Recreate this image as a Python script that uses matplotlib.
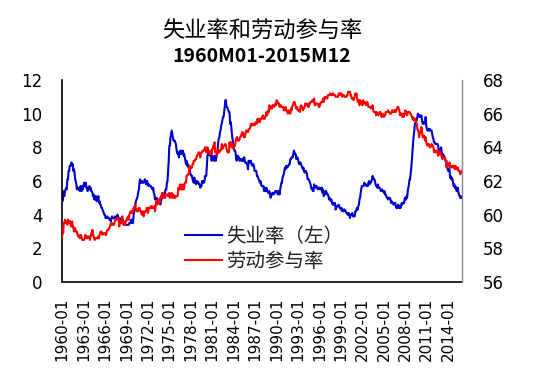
import matplotlib
matplotlib.use("Agg")
import matplotlib.pyplot as plt
import numpy as np

plt.rcParams['font.family'] = ['DejaVu Sans']

title_line1 = "失业率和劳动参与率"
title_line2 = "1960M01-2015M12"
series_names = ["失业率（左）", "劳动参与率"]

start_year = 1960
end_year = 2015

# Unemployment rate (%), monthly, 1960M01-2015M12 (left axis)
unemployment_rate = [
    5.2, 4.8, 5.4, 5.2, 5.1, 5.4, 5.5, 5.6, 5.5, 6.1, 6.1, 6.6,
    6.6, 6.9, 6.9, 7.0, 7.1, 6.9, 7.0, 6.6, 6.7, 6.5, 6.1, 6.0,
    5.8, 5.5, 5.6, 5.6, 5.5, 5.5, 5.4, 5.7, 5.6, 5.4, 5.7, 5.5,
    5.7, 5.9, 5.7, 5.7, 5.9, 5.6, 5.6, 5.4, 5.5, 5.5, 5.7, 5.5,
    5.6, 5.4, 5.4, 5.3, 5.1, 5.2, 4.9, 5.0, 5.1, 5.1, 4.8, 5.0,
    4.9, 5.1, 4.7, 4.8, 4.6, 4.6, 4.4, 4.4, 4.3, 4.2, 4.1, 4.0,
    4.0, 3.8, 3.8, 3.8, 3.9, 3.8, 3.8, 3.8, 3.7, 3.7, 3.6, 3.8,
    3.9, 3.8, 3.8, 3.8, 3.8, 3.9, 3.8, 3.8, 3.8, 4.0, 3.9, 3.8,
    3.7, 3.8, 3.7, 3.5, 3.5, 3.7, 3.7, 3.5, 3.4, 3.4, 3.4, 3.4,
    3.4, 3.4, 3.4, 3.4, 3.4, 3.5, 3.5, 3.5, 3.7, 3.7, 3.5, 3.5,
    3.9, 4.2, 4.4, 4.6, 4.8, 4.9, 5.0, 5.1, 5.4, 5.5, 5.9, 6.1,
    5.9, 5.9, 6.0, 5.9, 5.9, 5.9, 6.0, 6.1, 6.0, 5.8, 6.0, 6.0,
    5.8, 5.7, 5.8, 5.7, 5.7, 5.7, 5.6, 5.6, 5.5, 5.6, 5.3, 5.2,
    4.9, 5.0, 4.9, 5.0, 4.9, 4.9, 4.8, 4.8, 4.8, 4.6, 4.8, 4.9,
    5.1, 5.2, 5.1, 5.1, 5.1, 5.4, 5.5, 5.5, 5.9, 6.0, 6.6, 7.2,
    8.1, 8.1, 8.6, 8.8, 9.0, 8.8, 8.6, 8.4, 8.4, 8.4, 8.3, 8.2,
    7.9, 7.7, 7.6, 7.7, 7.4, 7.6, 7.8, 7.8, 7.6, 7.7, 7.8, 7.8,
    7.5, 7.6, 7.4, 7.2, 7.0, 7.2, 6.9, 7.0, 6.8, 6.8, 6.8, 6.4,
    6.4, 6.3, 6.3, 6.1, 6.0, 5.9, 6.2, 5.9, 6.0, 5.8, 5.9, 6.0,
    5.9, 5.9, 5.8, 5.8, 5.6, 5.7, 5.7, 6.0, 5.9, 6.0, 5.9, 6.0,
    6.3, 6.3, 6.3, 6.9, 7.5, 7.6, 7.8, 7.7, 7.5, 7.5, 7.5, 7.2,
    7.5, 7.4, 7.4, 7.2, 7.5, 7.5, 7.2, 7.4, 7.6, 7.9, 8.3, 8.5,
    8.6, 8.9, 9.0, 9.3, 9.4, 9.6, 9.8, 9.8, 10.1, 10.4, 10.8, 10.8,
    10.4, 10.4, 10.3, 10.2, 10.1, 10.1, 9.4, 9.5, 9.2, 8.8, 8.5, 8.3,
    8.0, 7.8, 7.8, 7.7, 7.4, 7.2, 7.5, 7.5, 7.3, 7.4, 7.2, 7.3,
    7.3, 7.2, 7.2, 7.3, 7.2, 7.4, 7.4, 7.1, 7.1, 7.1, 7.0, 7.0,
    6.7, 7.2, 7.2, 7.1, 7.2, 7.2, 7.0, 6.9, 7.0, 7.0, 6.9, 6.6,
    6.6, 6.6, 6.6, 6.3, 6.3, 6.2, 6.1, 6.0, 5.9, 6.0, 5.8, 5.7,
    5.7, 5.7, 5.7, 5.4, 5.6, 5.4, 5.4, 5.6, 5.4, 5.4, 5.3, 5.3,
    5.4, 5.2, 5.0, 5.2, 5.2, 5.3, 5.2, 5.2, 5.3, 5.3, 5.4, 5.4,
    5.4, 5.3, 5.2, 5.4, 5.4, 5.2, 5.5, 5.7, 5.9, 5.9, 6.2, 6.3,
    6.4, 6.6, 6.8, 6.7, 6.9, 6.9, 6.8, 6.9, 6.9, 7.0, 7.0, 7.3,
    7.3, 7.4, 7.4, 7.4, 7.6, 7.8, 7.7, 7.6, 7.6, 7.3, 7.4, 7.4,
    7.3, 7.1, 7.0, 7.1, 7.1, 7.0, 6.9, 6.8, 6.7, 6.8, 6.6, 6.5,
    6.6, 6.6, 6.5, 6.4, 6.1, 6.1, 6.1, 6.0, 5.9, 5.8, 5.6, 5.5,
    5.6, 5.4, 5.4, 5.8, 5.6, 5.6, 5.7, 5.7, 5.6, 5.5, 5.6, 5.6,
    5.6, 5.5, 5.5, 5.6, 5.6, 5.3, 5.5, 5.1, 5.2, 5.2, 5.4, 5.4,
    5.3, 5.2, 5.2, 5.1, 4.9, 5.0, 4.9, 4.8, 4.9, 4.7, 4.6, 4.7,
    4.6, 4.6, 4.7, 4.3, 4.4, 4.5, 4.5, 4.5, 4.6, 4.5, 4.4, 4.4,
    4.3, 4.4, 4.2, 4.3, 4.2, 4.3, 4.3, 4.2, 4.2, 4.1, 4.1, 4.0,
    4.0, 4.1, 4.0, 3.8, 4.0, 4.0, 4.0, 4.1, 3.9, 3.9, 3.9, 3.9,
    4.2, 4.2, 4.3, 4.4, 4.3, 4.5, 4.6, 4.9, 5.0, 5.3, 5.5, 5.7,
    5.7, 5.7, 5.7, 5.9, 5.8, 5.8, 5.8, 5.7, 5.7, 5.7, 5.9, 6.0,
    5.8, 5.9, 5.9, 6.0, 6.1, 6.3, 6.2, 6.1, 6.1, 6.0, 5.8, 5.7,
    5.7, 5.6, 5.8, 5.6, 5.6, 5.6, 5.5, 5.4, 5.4, 5.5, 5.4, 5.4,
    5.3, 5.4, 5.2, 5.2, 5.1, 5.0, 5.0, 4.9, 5.0, 5.0, 5.0, 4.9,
    4.7, 4.8, 4.7, 4.7, 4.6, 4.6, 4.7, 4.7, 4.5, 4.4, 4.5, 4.4,
    4.6, 4.5, 4.4, 4.5, 4.4, 4.6, 4.7, 4.6, 4.7, 4.7, 4.7, 5.0,
    5.0, 4.9, 5.1, 5.0, 5.4, 5.6, 5.8, 6.1, 6.1, 6.5, 6.8, 7.3,
    7.8, 8.3, 8.7, 9.0, 9.4, 9.5, 9.5, 9.6, 9.8, 10.0, 9.9, 9.9,
    9.8, 9.8, 9.9, 9.9, 9.6, 9.4, 9.4, 9.5, 9.5, 9.4, 9.8, 9.3,
    9.1, 9.0, 9.0, 9.1, 9.0, 9.1, 9.0, 9.0, 9.0, 8.8, 8.6, 8.5,
    8.3, 8.3, 8.2, 8.2, 8.2, 8.2, 8.2, 8.1, 7.8, 7.8, 7.7, 7.9,
    8.0, 7.7, 7.5, 7.6, 7.5, 7.5, 7.3, 7.2, 7.2, 7.2, 6.9, 6.7,
    6.6, 6.7, 6.7, 6.2, 6.3, 6.1, 6.2, 6.1, 5.9, 5.7, 5.8, 5.6,
    5.7, 5.5, 5.4, 5.4, 5.6, 5.3, 5.2, 5.1, 5.0, 5.0, 5.1, 5.0,
]

# Labor force participation rate (%), monthly, 1960M01-2015M12 (right axis)
participation_rate = [
    58.6, 59.1, 58.9, 59.5, 59.5, 59.7, 59.5, 59.5, 59.6, 59.4, 59.7, 59.6,
    59.5, 59.6, 59.6, 59.3, 59.3, 59.6, 59.3, 59.3, 59.0, 59.2, 59.2, 59.0,
    59.0, 59.0, 58.8, 58.7, 58.8, 58.7, 58.6, 58.7, 58.8, 58.6, 58.5, 58.5,
    58.5, 58.5, 58.6, 58.8, 58.7, 58.6, 58.7, 58.6, 58.7, 58.7, 58.7, 58.5,
    58.7, 58.9, 58.8, 59.1, 58.9, 58.7, 58.6, 58.5, 58.6, 58.6, 58.6, 58.6,
    58.7, 58.6, 58.6, 58.8, 58.9, 59.0, 59.0, 58.9, 58.8, 58.9, 58.9, 58.9,
    58.9, 58.8, 58.8, 59.0, 59.1, 59.1, 59.1, 59.2, 59.2, 59.4, 59.5, 59.4,
    59.5, 59.4, 59.4, 59.4, 59.5, 59.7, 59.7, 59.7, 59.7, 59.8, 59.8, 59.8,
    59.3, 59.6, 59.6, 59.5, 59.6, 59.9, 59.6, 59.4, 59.5, 59.4, 59.6, 59.6,
    59.6, 59.8, 59.8, 59.9, 59.7, 60.0, 60.1, 60.2, 60.1, 60.2, 60.1, 60.2,
    60.4, 60.4, 60.5, 60.6, 60.3, 60.2, 60.3, 60.3, 60.2, 60.4, 60.4, 60.3,
    60.2, 60.1, 60.0, 60.2, 60.2, 59.9, 60.1, 60.2, 60.2, 60.2, 60.4, 60.4,
    60.1, 60.2, 60.4, 60.4, 60.4, 60.5, 60.4, 60.5, 60.4, 60.4, 60.4, 60.5,
    60.2, 60.5, 60.8, 60.7, 60.6, 60.9, 60.9, 60.7, 60.7, 61.0, 61.1, 61.0,
    61.3, 61.3, 61.2, 61.0, 61.0, 61.0, 61.2, 61.2, 61.2, 61.2, 61.1, 61.1,
    61.3, 61.0, 61.1, 61.2, 61.3, 61.0, 61.2, 61.2, 61.0, 61.1, 61.0, 61.1,
    61.1, 61.1, 61.1, 61.6, 61.5, 61.5, 61.8, 61.7, 61.5, 61.5, 61.8, 61.7,
    61.5, 61.6, 61.9, 61.9, 61.9, 62.3, 62.3, 62.4, 62.4, 62.4, 62.9, 62.7,
    62.8, 62.8, 62.8, 63.0, 63.0, 63.2, 63.2, 63.2, 63.3, 63.3, 63.5, 63.5,
    63.6, 63.7, 63.7, 63.6, 63.4, 63.6, 63.7, 63.7, 63.8, 63.8, 63.8, 63.9,
    64.0, 64.0, 63.7, 63.8, 64.0, 63.7, 63.8, 63.7, 63.6, 63.7, 63.8, 63.6,
    63.9, 63.9, 64.1, 64.2, 64.3, 63.7, 63.8, 63.8, 63.5, 63.8, 63.9, 63.7,
    63.7, 63.8, 63.8, 63.9, 64.2, 63.9, 64.0, 64.1, 64.1, 64.1, 64.2, 64.1,
    63.9, 63.8, 63.7, 63.8, 63.7, 64.3, 64.1, 64.3, 64.3, 64.0, 64.1, 64.1,
    63.9, 64.1, 64.1, 64.3, 64.5, 64.6, 64.6, 64.4, 64.4, 64.4, 64.5, 64.6,
    64.7, 64.7, 64.9, 64.9, 64.8, 64.6, 64.7, 64.6, 64.9, 65.0, 64.9, 65.0,
    64.9, 65.0, 65.1, 65.1, 65.2, 65.4, 65.4, 65.3, 65.4, 65.4, 65.4, 65.3,
    65.4, 65.5, 65.5, 65.4, 65.7, 65.5, 65.6, 65.7, 65.5, 65.7, 65.7, 65.7,
    65.8, 65.9, 65.7, 65.8, 65.7, 65.8, 65.9, 66.1, 65.9, 66.0, 66.2, 66.1,
    66.5, 66.3, 66.3, 66.4, 66.3, 66.5, 66.5, 66.5, 66.4, 66.5, 66.6, 66.5,
    66.8, 66.7, 66.7, 66.6, 66.6, 66.4, 66.5, 66.5, 66.4, 66.4, 66.4, 66.4,
    66.2, 66.2, 66.3, 66.4, 66.2, 66.2, 66.1, 66.0, 66.2, 66.1, 66.1, 66.0,
    66.3, 66.2, 66.4, 66.5, 66.6, 66.7, 66.7, 66.6, 66.4, 66.3, 66.4, 66.3,
    66.2, 66.2, 66.2, 66.1, 66.4, 66.5, 66.4, 66.4, 66.2, 66.3, 66.3, 66.4,
    66.6, 66.6, 66.5, 66.5, 66.6, 66.4, 66.4, 66.6, 66.6, 66.7, 66.7, 66.7,
    66.8, 66.8, 66.7, 66.9, 66.5, 66.5, 66.6, 66.6, 66.6, 66.6, 66.5, 66.4,
    66.4, 66.6, 66.6, 66.7, 66.7, 66.7, 66.9, 66.7, 66.9, 67.0, 66.9, 67.0,
    67.0, 66.9, 67.1, 67.1, 67.1, 67.1, 67.2, 67.1, 67.1, 67.1, 67.2, 67.2,
    67.1, 67.1, 67.1, 67.0, 67.0, 67.0, 67.0, 67.0, 67.2, 67.2, 67.1, 67.2,
    67.2, 67.2, 67.0, 67.1, 67.1, 67.1, 67.0, 67.0, 67.0, 67.0, 67.1, 67.1,
    67.3, 67.3, 67.3, 67.3, 67.1, 67.1, 66.9, 66.9, 66.9, 66.8, 66.9, 67.0,
    67.2, 67.1, 67.2, 66.9, 66.7, 66.7, 66.8, 66.5, 66.8, 66.7, 66.7, 66.7,
    66.5, 66.8, 66.6, 66.7, 66.7, 66.6, 66.5, 66.6, 66.7, 66.6, 66.4, 66.4,
    66.4, 66.4, 66.3, 66.4, 66.4, 66.5, 66.2, 66.1, 66.1, 66.1, 66.1, 65.9,
    66.1, 66.0, 66.0, 65.9, 66.0, 66.1, 66.1, 66.0, 65.8, 65.9, 66.0, 65.9,
    65.8, 65.9, 65.9, 66.1, 66.1, 66.1, 66.1, 66.2, 66.1, 66.1, 66.0, 66.0,
    66.0, 66.1, 66.2, 66.1, 66.1, 66.2, 66.1, 66.2, 66.1, 66.2, 66.3, 66.4,
    66.4, 66.3, 66.2, 65.9, 66.0, 66.0, 66.0, 65.8, 66.0, 65.8, 66.0, 66.0,
    66.2, 66.0, 66.1, 65.9, 66.1, 66.1, 66.1, 66.1, 66.0, 66.0, 65.9, 65.8,
    65.7, 65.8, 65.6, 65.7, 65.7, 65.7, 65.5, 65.4, 65.1, 65.0, 65.0, 64.6,
    64.8, 64.9, 64.9, 65.2, 64.9, 64.6, 64.6, 64.7, 64.6, 64.4, 64.6, 64.3,
    64.2, 64.1, 64.2, 64.2, 64.1, 64.0, 64.0, 64.1, 64.2, 64.1, 64.1, 64.0,
    63.7, 63.8, 63.8, 63.7, 63.8, 63.8, 63.7, 63.5, 63.6, 63.8, 63.6, 63.7,
    63.6, 63.4, 63.3, 63.4, 63.4, 63.4, 63.4, 63.3, 63.2, 62.8, 63.0, 62.9,
    62.9, 62.9, 63.1, 62.8, 62.9, 62.8, 62.9, 62.9, 62.8, 62.9, 62.9, 62.7,
    62.9, 62.7, 62.7, 62.7, 62.8, 62.6, 62.6, 62.6, 62.4, 62.5, 62.5, 62.6,
]

left_ticks = [0, 2, 4, 6, 8, 10, 12]
right_ticks = [56, 58, 60, 62, 64, 66, 68]
tick_years = list(range(1960, 2015, 3))
tick_labels = [f"{y}-01" for y in tick_years]

blue = "#0000CC"
red = "#FF0000"
cjk = ["Noto Sans CJK SC", "DejaVu Sans"]

fig = plt.figure(figsize=(5.39, 3.87), dpi=100)
ax = fig.add_axes([62 / 539, 1 - 282 / 387, 400 / 539, 202 / 387])
ax2 = ax.twinx()

x = np.arange(len(unemployment_rate))
l1, = ax.plot(x, unemployment_rate, color=blue, lw=1.5, label=series_names[0])
l2, = ax2.plot(x, participation_rate, color=red, lw=1.5, label=series_names[1])

ax.set_xlim(0, len(x) - 1)
ax.set_ylim(left_ticks[0], left_ticks[-1])
ax2.set_ylim(right_ticks[0], right_ticks[-1])
ax.set_yticks(left_ticks)
ax2.set_yticks(right_ticks)
tick_pos = [(y - start_year) * 12 for y in tick_years]
ax.set_xticks(tick_pos)
ax.set_xticklabels(tick_labels, rotation=90, fontsize=11)

for a in (ax, ax2):
    a.spines['top'].set_visible(False)
    a.tick_params(length=0)
ax.tick_params(axis='y', pad=14, labelsize=12)
ax.tick_params(axis='x', pad=11)
ax2.tick_params(axis='y', pad=15, labelsize=12)
ax.spines['left'].set_color('black')
ax.spines['left'].set_linewidth(1.2)
ax.spines['bottom'].set_color('black')
ax.spines['bottom'].set_linewidth(1.2)
ax.spines['right'].set_visible(False)
ax2.spines['left'].set_visible(False)
ax2.spines['bottom'].set_visible(False)
ax2.spines['right'].set_color('#888888')
ax2.spines['right'].set_linewidth(1.0)

leg = ax2.legend(handles=[l1, l2], loc='center left',
                 bbox_to_anchor=(0.3075, 0.163), frameon=False,
                 prop={'family': cjk, 'size': 14}, handlelength=1.9,
                 handletextpad=0.2, labelspacing=0.2, borderpad=0,
                 borderaxespad=0)
for t in leg.get_texts():
    t.set_color('#222222')

fig.text(0.486, 1 - 30 / 387, title_line1, ha='center', va='center',
         fontsize=16, family=cjk)
fig.text(0.485, 1 - 56.5 / 387, title_line2, ha='center', va='center',
         fontsize=14, fontweight='bold', family=cjk)

fig.savefig("out.png", dpi=100)
